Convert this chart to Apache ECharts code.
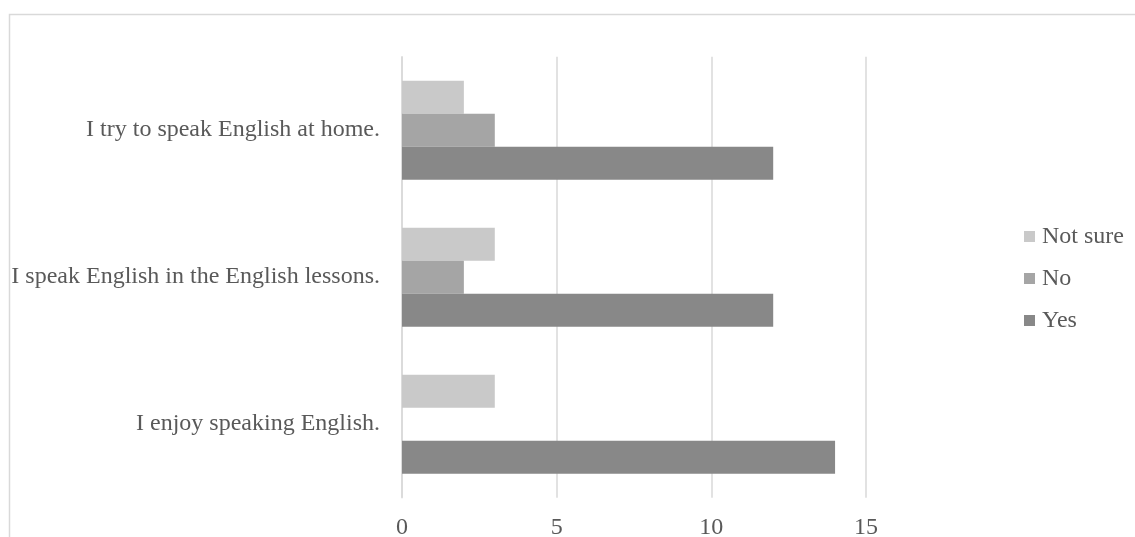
<!DOCTYPE html>
<html>
<head>
<meta charset="utf-8">
<script src="https://cdn.jsdelivr.net/npm/echarts@6/dist/echarts.min.js"></script>
<style>
  html, body { margin: 0; padding: 0; background: #fff; }
  #chart { width: 1135px; height: 537px; }
</style>
</head>
<body>
<div id="chart"></div>
<script>
// Survey statements, listed bottom to top along the category axis
const statements = [
  'I enjoy speaking English.',
  'I speak English in the English lessons.',
  'I try to speak English at home.'
];
const yesCounts = [14, 12, 12];
const noCounts = [0, 2, 3];
const notSureCounts = [3, 3, 2];
const xTicks = [0, 5, 10, 15];

const textColor = '#595959';
const lineColor = '#d9d9d9';
const font = 'Liberation Serif';

const chart = echarts.init(document.getElementById('chart'));
chart.setOption({
  animation: false,
  backgroundColor: '#fff',
  // Thin frame around the chart area
  graphic: [{
    type: 'rect',
    shape: { x: 9.5, y: 14.5, width: 1200, height: 700 },
    style: { fill: 'none', stroke: lineColor, lineWidth: 1.5 },
    silent: true
  }],
  grid: {
    left: 402, right: 269, top: 56.7, bottom: 39.3,
    containLabel: false,
    outerBoundsMode: 'none'
  },
  legend: {
    orient: 'vertical',
    left: 1024,
    top: 224.5,
    padding: 0,
    itemWidth: 11,
    itemHeight: 11,
    itemGap: 18,
    icon: 'rect',
    data: ['Not sure', 'No', 'Yes'],
    textStyle: { fontFamily: font, fontSize: 24, color: textColor, padding: [0, 0, 0, 2] }
  },
  xAxis: {
    type: 'value',
    min: xTicks[0],
    max: xTicks[xTicks.length - 1],
    interval: 5,
    axisLine: { show: false },
    axisTick: { show: false },
    splitLine: { lineStyle: { color: lineColor, width: 1.5 } },
    axisLabel: { fontFamily: font, fontSize: 24, color: textColor, margin: 18 }
  },
  yAxis: {
    type: 'category',
    data: statements,
    axisLine: { show: true, lineStyle: { color: lineColor, width: 1.5 } },
    axisTick: { show: false },
    axisLabel: { fontFamily: font, fontSize: 24, color: textColor, margin: 22 }
  },
  // Within each band the first series sits on top
  series: [
    { name: 'Not sure', type: 'bar', data: notSureCounts, barWidth: 33, barGap: '0%',
      itemStyle: { color: '#c9c9c9' } },
    { name: 'No', type: 'bar', data: noCounts, barWidth: 33, barGap: '0%',
      itemStyle: { color: '#a5a5a5' } },
    { name: 'Yes', type: 'bar', data: yesCounts, barWidth: 33, barGap: '0%',
      itemStyle: { color: '#888888' } }
  ]
});
</script>
</body>
</html>
